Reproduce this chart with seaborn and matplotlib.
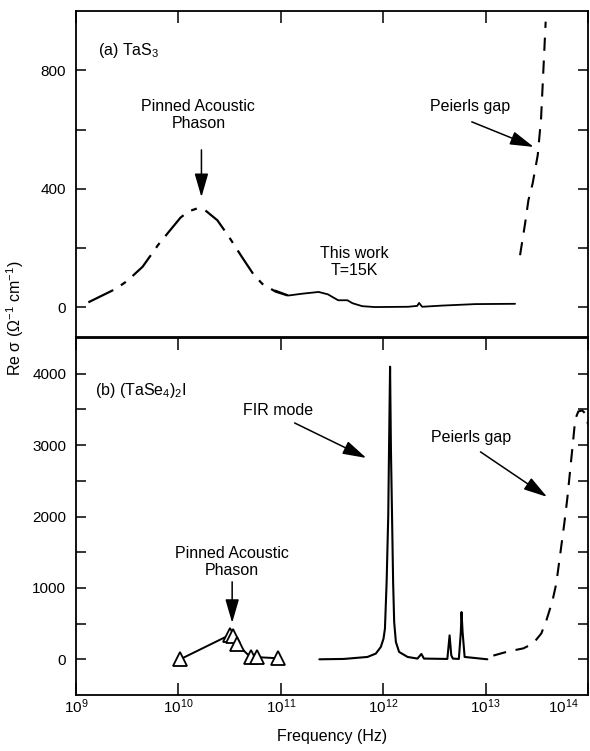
import matplotlib
matplotlib.use("Agg")
import matplotlib.pyplot as plt
import matplotlib.transforms as mtransforms
import seaborn as sns
from matplotlib.ticker import NullLocator, FixedLocator

# ---------------- data ----------------
# (a) TaS3 : pinned acoustic phason (dash-dot curve)
tas3_phason_freq = [1.32e9, 2.43e9, 3.16e9, 4.47e9, 6.38e9, 8.71e9, 1.05e10, 1.26e10,
                    1.53e10, 1.82e10, 2.40e10, 3.09e10, 4.17e10, 5.37e10, 6.61e10,
                    8.91e10, 1.17e11]
tas3_phason_sigma = [17, 62, 89, 137, 212, 269, 303, 324, 334, 328, 294, 240, 170,
                     113, 79, 53, 40]
# (a) TaS3 : this work, T = 15 K (solid)
tas3_work_freq = [8.83e10, 1.19e11, 1.61e11, 2.34e11, 2.88e11, 3.63e11, 4.47e11, 5.01e11,
                  6.24e11, 8.32e11, 1.75e12, 2.15e12, 2.24e12, 2.40e12, 3.77e12,
                  7.91e12, 1.94e13]
tas3_work_sigma = [57, 40, 46, 52, 44, 24, 24, 14, 4, 1, 2, 5, 15, 2, 6, 11, 12]
# (a) TaS3 : Peierls gap (dashed)
tas3_gap_freq = [2.17e13, 2.43e13, 2.62e13, 2.88e13, 3.23e13, 3.48e13, 3.66e13, 3.86e13]
tas3_gap_sigma = [176, 283, 362, 418, 514, 637, 795, 964]

# (b) (TaSe4)2I : pinned acoustic phason (triangles)
tase_phason_freq = [1.04e10, 3.16e10, 3.41e10, 3.75e10, 5.06e10, 5.87e10, 9.35e10]
tase_phason_sigma = [0, 340, 320, 210, 30, 30, 15]
# (b) (TaSe4)2I : FIR spectrum (solid)
tase_fir_freq = [2.38e11, 4.13e11, 7.03e11, 8.47e11, 9.48e11, 1.007e12, 1.04e12, 1.08e12,
                 1.12e12, 1.14e12, 1.167e12, 1.19e12, 1.22e12, 1.25e12, 1.28e12, 1.33e12,
                 1.43e12, 1.73e12, 2.16e12, 2.36e12, 2.50e12, 4.23e12, 4.45e12, 4.62e12,
                 4.79e12, 5.48e12, 5.73e12, 5.82e12, 5.96e12, 6.24e12, 1.04e13]
tase_fir_sigma = [0, 5, 33, 80, 173, 289, 430, 1080, 2007, 2937, 4098, 2937, 2007, 1080,
                  521, 243, 103, 33, 10, 75, 10, 5, 335, 56, 10, 5, 382, 661, 382, 33, 0]
# (b) (TaSe4)2I : Peierls gap (dashed)
tase_gap_freq = [1.19e13, 1.67e13, 2.34e13, 2.92e13, 3.50e13, 3.92e13, 4.48e13, 4.90e13,
                 5.36e13, 5.86e13, 6.27e13, 6.71e13, 7.18e13, 7.50e13, 8.04e13, 8.79e13,
                 9.62e13, 1.0e14]
tase_gap_sigma = [52, 111, 153, 223, 362, 544, 809, 1060, 1478, 1896, 2244, 2662, 3081,
                  3360, 3471, 3485, 3429, 3290]

x_ticks = [1e9, 1e10, 1e11, 1e12, 1e13, 1e14]
x_tick_labels = ["$10^{9}$", "$10^{10}$", "$10^{11}$", "$10^{12}$", "$10^{13}$", "$10^{14}$"]
top_yticks = [0, 200, 400, 600, 800]
top_ytick_labels = ["0", "", "400", "", "800"]
bot_yticks = [0, 500, 1000, 1500, 2000, 2500, 3000, 3500, 4000]
bot_ytick_labels = ["0", "", "1000", "", "2000", "", "3000", "", "4000"]

# ---------------- style ----------------
sns.set_theme(style="white")
plt.rcParams.update({
    "axes.edgecolor": "black",
    "axes.linewidth": 1.3,
    "xtick.color": "black",
    "ytick.color": "black",
    "text.color": "black",
    "lines.scale_dashes": False,
    "mathtext.fontset": "custom",
    "mathtext.rm": "Liberation Sans",
    "mathtext.it": "Liberation Sans:italic",
    "mathtext.bf": "Liberation Sans:bold",
    "mathtext.default": "regular",
})
plt.rcParams["font.family"] = ["Liberation Sans", "DejaVu Sans"]

W, H = 590, 751
fig = plt.figure(figsize=(W / 100, H / 100), dpi=100)
L, R = 76, 588
ax1 = fig.add_axes([L / W, (H - 337) / H, (R - L) / W, (337 - 11) / H])
ax2 = fig.add_axes([L / W, (H - 695) / H, (R - L) / W, (695 - 338) / H])

TXT = 11.5
dashdot = (0, (20, 6.5, 4.3, 6.5))
dashed = (0, (9.5, 7))

# ---------------- panel (a) ----------------
ax1.set_xscale("log")
sns.lineplot(x=tas3_phason_freq, y=tas3_phason_sigma, ax=ax1, color="black", lw=1.6,
             linestyle=dashdot, sort=False, estimator=None)
sns.lineplot(x=tas3_work_freq, y=tas3_work_sigma, ax=ax1, color="black", lw=1.3,
             sort=False, estimator=None)
sns.lineplot(x=tas3_gap_freq, y=tas3_gap_sigma, ax=ax1, color="black", lw=1.5,
             linestyle=dashed, sort=False, estimator=None)
ax1.set_xlim(1e9, 1e14)
ax1.set_ylim(-100, 1000)

# ---------------- panel (b) ----------------
ax2.set_xscale("log")
sns.lineplot(x=tase_phason_freq, y=tase_phason_sigma, ax=ax2, color="black", lw=1.4,
             marker="^", markersize=9.5, markerfacecolor="white",
             markeredgecolor="black", markeredgewidth=1.3, sort=False, estimator=None)
sns.lineplot(x=tase_fir_freq, y=tase_fir_sigma, ax=ax2, color="black", lw=1.5,
             sort=False, estimator=None)
sns.lineplot(x=tase_gap_freq, y=tase_gap_sigma, ax=ax2, color="black", lw=1.5,
             linestyle=dashed, sort=False, estimator=None)
ax2.set_xlim(1e9, 1e14)
ax2.set_ylim(-500, 4500)

# ---------------- ticks ----------------
for ax, yt, ytl in ((ax1, top_yticks, top_ytick_labels), (ax2, bot_yticks, bot_ytick_labels)):
    ax.xaxis.set_major_locator(FixedLocator(x_ticks))
    ax.xaxis.set_minor_locator(NullLocator())
    ax.yaxis.set_minor_locator(NullLocator())
    ax.set_xticks(x_ticks)
    ax.set_xticklabels(x_tick_labels)
    ax.set_yticks(yt)
    ax.set_yticklabels(ytl)
    ax.tick_params(axis="y", which="major", direction="in", length=7.2, width=1.1,
                   left=True, right=True, labelsize=11, pad=7)
    ax.tick_params(axis="x", which="major", direction="in", length=8.6, width=1.1,
                   top=True, labelsize=11, pad=1.5)
    for s in ax.spines.values():
        s.set_color("black")
        s.set_linewidth(1.3)
    ax.set_xlabel("")
    ax.set_ylabel("")

ax1.tick_params(axis="x", bottom=False, labelbottom=False)
ax2.tick_params(axis="x", bottom=True, labelbottom=True)

# last x tick label sits just inside the right edge, as in the reference
last = ax2.get_xticklabels()[-1]
last.set_horizontalalignment("right")
last.set_transform(last.get_transform() +
                   mtransforms.ScaledTranslation(-0.09, 0, fig.dpi_scale_trans))

# ---------------- annotations ----------------
astyle = "-|>,head_length=1.45,head_width=0.42"


def arrow(ax, start, tip):
    ax.annotate("", xy=tip, xytext=start, xycoords="axes fraction",
                textcoords="axes fraction",
                arrowprops=dict(arrowstyle=astyle, mutation_scale=10, lw=1.1,
                                color="black", shrinkA=0, shrinkB=0))


ax1.text(0.043, 0.865, "(a) TaS$_3$", transform=ax1.transAxes, fontsize=TXT,
         ha="left", va="baseline")
ax1.text(0.239, 0.681, "Pinned Acoustic\nPhason", transform=ax1.transAxes, fontsize=TXT,
         ha="center", va="center", linespacing=1.15)
arrow(ax1, (0.245, 0.574), (0.245, 0.429))
ax1.text(0.543, 0.230, "This work\nT=15K", transform=ax1.transAxes, fontsize=TXT,
         ha="center", va="center", linespacing=1.15)
ax1.text(0.769, 0.706, "Peierls gap", transform=ax1.transAxes, fontsize=TXT,
         ha="center", va="center")
arrow(ax1, (0.773, 0.660), (0.894, 0.583))

ax2.text(0.037, 0.840, "(b) (TaSe$_4$)$_2$I", transform=ax2.transAxes, fontsize=TXT,
         ha="left", va="baseline")
ax2.text(0.394, 0.798, "FIR mode", transform=ax2.transAxes, fontsize=TXT,
         ha="center", va="center")
arrow(ax2, (0.427, 0.762), (0.567, 0.664))
ax2.text(0.771, 0.720, "Peierls gap", transform=ax2.transAxes, fontsize=TXT,
         ha="center", va="center")
arrow(ax2, (0.790, 0.681), (0.920, 0.555))
ax2.text(0.305, 0.373, "Pinned Acoustic\nPhason", transform=ax2.transAxes, fontsize=TXT,
         ha="center", va="center", linespacing=1.15)
arrow(ax2, (0.305, 0.317), (0.305, 0.202))

# axis titles
fig.text(15 / W, 1 - 318 / H, "Re σ (Ω$^{-1}$ cm$^{-1}$)", rotation=90, fontsize=TXT,
         ha="center", va="center")
fig.text((L + R) / 2 / W, 1 - 737 / H, "Frequency (Hz)", fontsize=TXT,
         ha="center", va="center")

fig.savefig("out.png", dpi=100)
